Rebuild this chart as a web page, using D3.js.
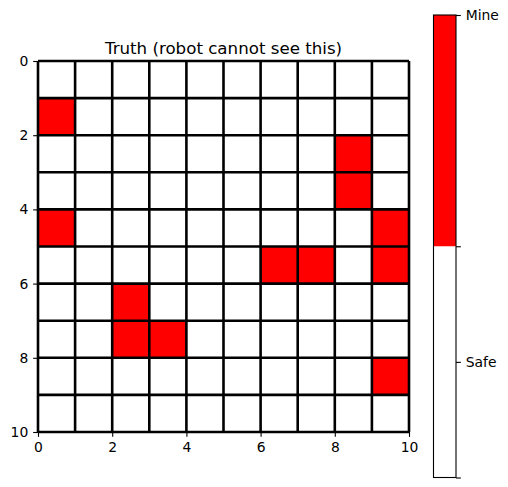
<!DOCTYPE html>
<html><head><meta charset="utf-8">
<script src="https://cdn.jsdelivr.net/npm/d3@7"></script>
<style>body{margin:0;background:#fff}svg{display:block}text{font-family:"DejaVu Sans",sans-serif;fill:#000}</style>
</head><body>
<script>
// 1 = mine, 0 = safe; one array per row (row 0 at top)
const truthRows = [
  [0,0,0,0,0,0,0,0,0,0],
  [1,0,0,0,0,0,0,0,0,0],
  [0,0,0,0,0,0,0,0,1,0],
  [0,0,0,0,0,0,0,0,1,0],
  [1,0,0,0,0,0,0,0,0,1],
  [0,0,0,0,0,0,1,1,0,1],
  [0,0,1,0,0,0,0,0,0,0],
  [0,0,1,1,0,0,0,0,0,0],
  [0,0,0,0,0,0,0,0,0,1],
  [0,0,0,0,0,0,0,0,0,0]
];
const axisTicks = [0,2,4,6,8,10];
const cbTicks = [0, 0.25, 0.5, 1];
const cbLabels = ["", "Safe", "", "Mine"];
const titleText = "Truth (robot cannot see this)";

const W = 508, H = 487;
const svg = d3.select("body").append("svg").attr("width", W).attr("height", H);

const x = d3.scaleLinear().domain([0,10]).range([38, 409]);
const y = d3.scaleLinear().domain([0,10]).range([61, 432]);
const color = v => v >= 0.5 ? "#ff0000" : "#ffffff";

const cells = [];
truthRows.forEach((row, r) => row.forEach((v, c) => cells.push({r, c, v})));

svg.append("g").selectAll("rect").data(cells).join("rect")
  .attr("x", d => x(d.c)).attr("y", d => y(d.r))
  .attr("width", x(1) - x(0)).attr("height", y(1) - y(0))
  .attr("fill", d => color(d.v));

// grid lines
const g = svg.append("g").attr("stroke", "#000").attr("stroke-width", 2.6);
d3.range(0, 11).forEach(i => {
  g.append("line").attr("x1", x(i)).attr("x2", x(i)).attr("y1", y(0)).attr("y2", y(10));
  g.append("line").attr("x1", x(0)).attr("x2", x(10)).attr("y1", y(i)).attr("y2", y(i));
});

const fs = 13.9, tk = 4.86;
const xAxis = svg.append("g").attr("transform", `translate(0,${y(10)})`)
  .call(d3.axisBottom(x).tickValues(axisTicks).tickSize(tk).tickPadding(tk).tickFormat(d3.format("d")));
const yAxis = svg.append("g").attr("transform", `translate(${x(0)},0)`)
  .call(d3.axisLeft(y).tickValues(axisTicks).tickSize(tk).tickPadding(tk).tickFormat(d3.format("d")));
[xAxis, yAxis].forEach(a => {
  a.select(".domain").remove();
  a.selectAll("text").attr("font-size", fs).attr("font-family", "DejaVu Sans");
  a.selectAll("line").attr("stroke-width", 1.1);
});

svg.append("text").attr("x", (x(0)+x(10))/2).attr("y", 53.5)
  .attr("text-anchor", "middle").attr("font-size", 16.67).text(titleText);

// colorbar
const cbX = 433.5, cbW = 22.5;
const cy = d3.scaleLinear().domain([0,1]).range([477.5, 15]);
const segs = [[0,0.5],[0.5,1]];
svg.append("g").selectAll("rect").data(segs).join("rect")
  .attr("x", cbX).attr("width", cbW)
  .attr("y", d => cy(d[1])).attr("height", d => cy(d[0]) - cy(d[1]))
  .attr("fill", d => color((d[0]+d[1])/2));
svg.append("rect").attr("x", cbX).attr("y", cy(1)).attr("width", cbW).attr("height", cy(0)-cy(1))
  .attr("fill", "none").attr("stroke", "#000").attr("stroke-width", 1.1);
const cbAxis = svg.append("g").attr("transform", `translate(${cbX+cbW},0)`)
  .call(d3.axisRight(cy).tickValues(cbTicks).tickSize(tk).tickPadding(tk).tickFormat((d,i) => cbLabels[i]));
cbAxis.select(".domain").remove();
cbAxis.selectAll("text").attr("font-size", fs).attr("font-family", "DejaVu Sans");
cbAxis.selectAll("line").attr("stroke-width", 1.1);
</script>
</body></html>
